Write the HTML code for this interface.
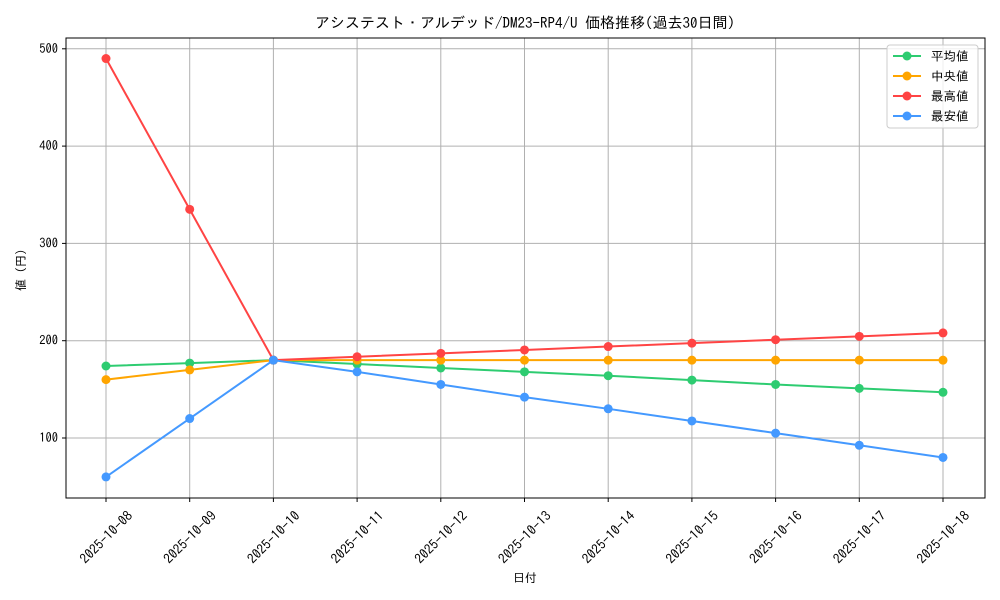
<!DOCTYPE html>
<html><head><meta charset="utf-8"><style>
body{margin:0;background:#fff}
svg{display:block;font-family:"IPAGothic","Liberation Sans","Noto Sans CJK JP",sans-serif}
</style></head><body>
<svg id="chart" width="1000" height="600">
<rect width="1000" height="600" fill="#fff"/>
<text x="525" y="28" font-size="15" text-anchor="middle">アシステスト・アルデッド/DM23-RP4/U 価格推移(過去30日間)</text>
<g id="grid"></g>
<rect x="66" y="38" width="919" height="460" fill="none" stroke="#000" stroke-width="1"/>
<g id="axes"></g>
<g id="series"></g>
<text x="525" y="582" font-size="12" text-anchor="middle">日付</text>
<text transform="translate(25,270) rotate(-90)" font-size="12" text-anchor="middle">値 (円)</text>
<g id="legend"></g>
</svg>
<script>
const categories=["2025-10-08","2025-10-09","2025-10-10","2025-10-11","2025-10-12","2025-10-13","2025-10-14","2025-10-15","2025-10-16","2025-10-17","2025-10-18"];
const avgValues=[174,177,180,176,172,168,164,159.5,155,151,147];
const medianValues=[160,170,180,180,180,180,180,180,180,180,180];
const maxValues=[490,335,180,183.5,187,190.5,194,197.5,201,204.5,208];
const minValues=[60,120,180,168,155,142,130,117.5,105,92.5,80];
const yTicks=[100,200,300,400,500];
const seriesNames=["平均値","中央値","最高値","最安値"];
const NS="http://www.w3.org/2000/svg";
function xs(i){return 106+i*83.7;}
function ys(v){return 535.3-v*0.973;}
function mk(tag,attrs,parent){const e=document.createElementNS(NS,tag);for(const k in attrs)e.setAttribute(k,attrs[k]);parent.appendChild(e);return e;}
const grid=document.getElementById('grid'),axes=document.getElementById('axes'),ser=document.getElementById('series'),leg=document.getElementById('legend');
categories.forEach((c,i)=>{
 const x=xs(i);
 const g=mk('line',{x1:x,x2:x,y1:38,y2:498,stroke:'#b0b0b0','stroke-width':1},grid);
 
 
 mk('line',{x1:x,x2:x,y1:498,y2:502,stroke:'#000'},axes);
 const t=mk('text',{transform:`translate(${x},${537}) rotate(-45)`,'font-size':13.5,'text-anchor':'middle',dy:5},axes);
 t.textContent=c;
 
 
});
yTicks.forEach(v=>{
 const y=ys(v);
 const g=mk('line',{x1:66,x2:985,y1:y,y2:y,stroke:'#b0b0b0','stroke-width':1},grid);
 
 
 mk('line',{x1:62,x2:66,y1:y,y2:y,stroke:'#000'},axes);
 const t=mk('text',{x:58,y:y+4,'font-size':12.5,'text-anchor':'end'},axes);
 t.textContent=v;
 
 
});
const all=[avgValues,medianValues,maxValues,minValues];
const colors=["#2ecc71","#ffa500","#ff4444","#4499ff"];
const sNames=["series-average","series-median","series-max","series-min"];
all.forEach((vals,s)=>{
 const g=mk('g',{},ser);
 
 
 mk('polyline',{points:vals.map((v,i)=>xs(i)+','+ys(v)).join(' '),fill:'none',stroke:colors[s],'stroke-width':2},g);
 vals.forEach((v,i)=>{
  const p=mk('circle',{cx:xs(i),cy:ys(v),r:4.5,fill:colors[s]},g);
  
  
 });
});
mk('rect',{x:887,y:45,width:91,height:83,rx:3,fill:'#fff',stroke:'#ccc','fill-opacity':0.8},leg);
seriesNames.forEach((n,s)=>{
 const y=56+s*20;
 const g=mk('g',{},leg);
 
 
 mk('line',{x1:893,x2:921,y1:y,y2:y,stroke:colors[s],'stroke-width':2},g);
 mk('circle',{cx:907,cy:y,r:4.5,fill:colors[s]},g);
 const t=mk('text',{x:931,y:y+4.5,'font-size':12.5},g);
 t.textContent=n;
});
</script>
</body></html>
